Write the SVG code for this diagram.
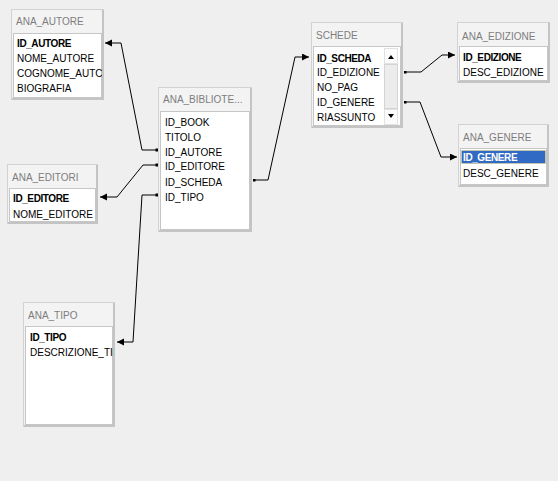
<svg xmlns="http://www.w3.org/2000/svg" width="558" height="481" viewBox="0 0 558 481">
<style>
.frame{fill:#f3f3f3;stroke:#d2d2d2;stroke-width:1}
.shadow{fill:none;stroke:#c4c4c4;stroke-width:2}
.list{fill:#ffffff;stroke:#c6c6c6;stroke-width:1}
.title{font-family:"Liberation Sans",Arial,sans-serif;font-size:10px;fill:#7d7d7d}
.row{font-family:"Liberation Sans",Arial,sans-serif;font-size:10px;fill:#000}
.key{font-weight:bold;letter-spacing:-0.4px}
.conn{fill:none;stroke:#000;stroke-width:1}
</style>
<defs>
<marker id="arr" markerUnits="userSpaceOnUse" markerWidth="8" markerHeight="8" refX="7" refY="3.5" orient="auto">
<path d="M0,0 L7,3.5 L0,7 z" fill="#000"/>
</marker>
<marker id="dot" markerUnits="userSpaceOnUse" markerWidth="4" markerHeight="4" refX="1.5" refY="1.5" orient="auto">
<rect x="0" y="0" width="3" height="3" fill="#000"/>
</marker>
<clipPath id="cAut"><rect x="13" y="34" width="89" height="64"/></clipPath>
<clipPath id="cTipo"><rect x="25" y="327" width="88" height="98"/></clipPath>
</defs>
<rect x="0" y="0" width="558" height="481" fill="#efefef"/>

<g id="connectors">
<polyline class="conn" points="157,150 142,150 121,43 105,43" marker-start="url(#dot)" marker-end="url(#arr)"/>
<polyline class="conn" points="157,165 143,165 117,197 100,197" marker-start="url(#dot)" marker-end="url(#arr)"/>
<polyline class="conn" points="157,195 142,195 133,342 117,342" marker-start="url(#dot)" marker-end="url(#arr)"/>
<polyline class="conn" points="254,180 268,180 295,57 309,57" marker-start="url(#dot)" marker-end="url(#arr)"/>
<polyline class="conn" points="405,72 421,72 442,55 455,55" marker-start="url(#dot)" marker-end="url(#arr)"/>
<polyline class="conn" points="405,102 420,102 441,157 457,157" marker-start="url(#dot)" marker-end="url(#arr)"/>
</g>

<g id="ana_autore">
<rect class="frame" x="11.5" y="9.5" width="92" height="90"/>
<polyline class="shadow" points="103,10 103,99 12,99"/>
<rect class="list" x="13.5" y="33.5" width="88" height="64"/>
<text class="title" x="16" y="25">ANA_AUTORE</text>
<g clip-path="url(#cAut)">
<text class="row key" x="17" y="47">ID_AUTORE</text>
<text class="row" x="17" y="62">NOME_AUTORE</text>
<text class="row" x="17" y="77">COGNOME_AUTC</text>
<text class="row" x="17" y="92">BIOGRAFIA</text>
</g>
</g>

<g id="ana_biblioteca">
<rect class="frame" x="158.5" y="87.5" width="93" height="144"/>
<polyline class="shadow" points="251,88 251,231 159,231"/>
<rect class="list" x="160.5" y="111.5" width="89" height="118"/>
<text class="title" x="163" y="103">ANA_BIBLIOTE...</text>
<text class="row" x="165" y="126">ID_BOOK</text>
<text class="row" x="165" y="141">TITOLO</text>
<text class="row" x="165" y="156">ID_AUTORE</text>
<text class="row" x="165" y="170">ID_EDITORE</text>
<text class="row" x="165" y="186">ID_SCHEDA</text>
<text class="row" x="165" y="201">ID_TIPO</text>
</g>

<g id="schede">
<rect class="frame" x="311.5" y="22.5" width="91" height="105"/>
<polyline class="shadow" points="402,23 402,127 312,127"/>
<rect class="list" x="313.5" y="46.5" width="87" height="79"/>
<text class="title" x="316" y="39">SCHEDE</text>
<text class="row key" x="317" y="62">ID_SCHEDA</text>
<text class="row" x="317" y="76">ID_EDIZIONE</text>
<text class="row" x="317" y="91">NO_PAG</text>
<text class="row" x="317" y="106">ID_GENERE</text>
<text class="row" x="317" y="121">RIASSUNTO</text>
<rect x="384" y="48" width="14" height="77" fill="#f4f4f4"/>
<rect x="384.5" y="48.5" width="13" height="15" fill="#fbfbfb" stroke="#e2e2e2"/>
<path d="M388,59 L391,55 L394,59 z" fill="#000"/>
<rect x="384.5" y="64.5" width="13" height="44" fill="#ececec" stroke="#d4d4d4"/>
<rect x="384.5" y="109.5" width="13" height="15" fill="#fbfbfb" stroke="#e2e2e2"/>
<path d="M388,114 L391,118 L394,114 z" fill="#000"/>
</g>

<g id="ana_edizione">
<rect class="frame" x="457.5" y="22.5" width="92" height="60"/>
<polyline class="shadow" points="549,23 549,82 458,82"/>
<rect class="list" x="459.5" y="46.5" width="88" height="34"/>
<text class="title" x="462" y="40">ANA_EDIZIONE</text>
<text class="row key" x="463" y="61">ID_EDIZIONE</text>
<text class="row" x="463" y="76">DESC_EDIZIONE</text>
</g>

<g id="ana_genere">
<rect class="frame" x="458.5" y="124.5" width="90" height="62"/>
<polyline class="shadow" points="548,125 548,186 459,186"/>
<rect class="list" x="460.5" y="148.5" width="86" height="36"/>
<text class="title" x="463" y="141">ANA_GENERE</text>
<rect x="461.5" y="150.5" width="84" height="13" fill="#316ac5" stroke="#e8d27a" stroke-dasharray="1,1"/>
<text class="row key" x="463" y="161" fill="#ffffff" style="fill:#fff">ID_GENERE</text>
<text class="row" x="463" y="177">DESC_GENERE</text>
</g>

<g id="ana_editori">
<rect class="frame" x="7.5" y="164.5" width="90" height="59"/>
<polyline class="shadow" points="97,165 97,223 8,223"/>
<rect class="list" x="9.5" y="188.5" width="86" height="33"/>
<text class="title" x="12" y="181">ANA_EDITORI</text>
<text class="row key" x="13" y="202">ID_EDITORE</text>
<text class="row" x="13" y="218">NOME_EDITORE</text>
</g>

<g id="ana_tipo">
<rect class="frame" x="23.5" y="302.5" width="91" height="124"/>
<polyline class="shadow" points="114,303 114,426 24,426"/>
<rect class="list" x="25.5" y="326.5" width="87" height="98"/>
<text class="title" x="28" y="319">ANA_TIPO</text>
<g clip-path="url(#cTipo)">
<text class="row key" x="30" y="341">ID_TIPO</text>
<text class="row" x="30" y="356">DESCRIZIONE_TI</text>
</g>
</g>
</svg>
